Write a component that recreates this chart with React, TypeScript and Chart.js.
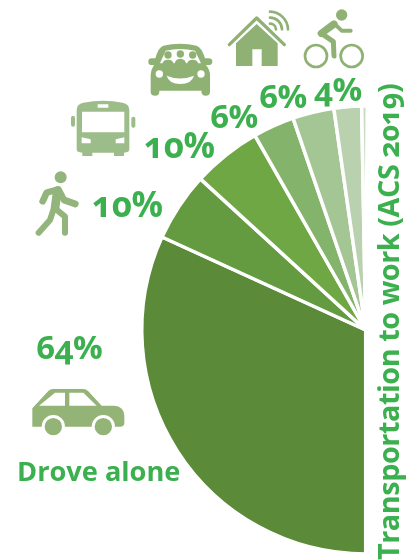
import React, { useEffect, useRef } from "react";
import { Chart, registerables } from "chart.js";

Chart.register(...registerables);

const categories = ["Drove alone", "Walked", "Public transit", "Carpool", "Worked from home", "Bicycle", "Other"];
const shares = [64, 10, 10, 6, 6, 4, 0.8];
const sliceColors = ["#5b8a38", "#659b40", "#6fa745", "#84b46b", "#a4c594", "#b9d1ae", "#c9dcc0"];
const shareLabels = ["64%", "10%", "10%", "6%", "6%", "4%"];
const labelSizes = [33, 35, 35, 33, 33, 33];
const chartTitle = "Transportation to work (ACS 2019)";
const categoryCaption = "Drove alone";

const TEXT_GREEN = "#3cb04f";
const WIDTH = 417;
const HEIGHT = 560;

// Left edge and top of each share label, in page pixels.
const labelSpots: [number, number][] = [
  [36, 330],
  [92, 186],
  [144, 127],
  [210, 99],
  [259, 79],
  [314, 72],
];

type Ctx = CanvasRenderingContext2D;

const filled = (c: Ctx, color: string, d: string, sx = 1 / 3, ox = 0, oy = 0) => {
  c.save();
  c.translate(ox, oy);
  c.scale(sx, sx);
  c.fillStyle = color;
  c.fill(new Path2D(d), "evenodd");
  c.restore();
};

const stroked = (c: Ctx, color: string, width: number, d: string, ox = 0, oy = 0) => {
  c.save();
  c.translate(ox, oy);
  c.scale(1 / 3, 1 / 3);
  c.strokeStyle = color;
  c.lineWidth = width;
  c.lineCap = "round";
  c.lineJoin = "round";
  c.stroke(new Path2D(d));
  c.restore();
};

const circle = (x: number, y: number, r: number) =>
  `M${x - r} ${y}a${r} ${r} 0 1 0 ${2 * r} 0a${r} ${r} 0 1 0 ${-2 * r} 0Z`;

function drawWalker(c: Ctx) {
  const col = "#93b47c";
  filled(c, col, circle(182, 532, 18));
  stroked(c, col, 20, "M128 604L140 578L175 568L192 600L226 612");
  stroked(c, col, 26, "M172 572L165 625");
  stroked(c, col, 18, "M160 630L150 660L116 698");
  stroked(c, col, 18, "M165 625L195 650L195 698");
}

function drawBus(c: Ctx) {
  const col = "#9cbd89";
  filled(c, col, "M230 330Q230 312 250 308Q310 296 368 308Q388 312 388 330V448Q388 458 372 458V468H342V458H277V468H247V458Q230 458 230 448Z" +
    "M246 335H373V397H246Z M293 313H325V323H293Z M245 412L272 418V430H245Z M373 412L347 418V430H373Z");
  stroked(c, col, 12, "M219 353V374");
  stroked(c, col, 12, "M400 356V377");
}

function drawCarpool(c: Ctx) {
  const col = "#8fb274";
  filled(c, col,
    "M490 137Q540 125 590 137Q605 142 615 175H625Q637 175 637 185Q637 195 625 195H618Q630 210 630 225V275Q630 287 617 287Q604 287 604 272H478V275Q478 287 465 287Q452 287 452 275V225Q452 210 462 195H455Q445 195 445 185Q445 175 455 175H466Q475 142 490 137Z");
  filled(c, "#ffffff", "M480 190L497 152Q540 142 585 152L603 190Z");
  filled(c, "#ffffff", circle(478, 222, 11));
  filled(c, "#ffffff", circle(603, 222, 11));
  filled(c, "#ffffff", "M500 227Q540 244 582 227Q575 252 541 252Q507 252 500 227Z");
  [[504, 165], [541, 162], [578, 165]].forEach(([x, y]) => {
    filled(c, col, circle(x, y, 11));
    filled(c, col, `M${x - 18} 195Q${x - 16} ${y + 14} ${x} ${y + 14}Q${x + 16} ${y + 14} ${x + 18} 195Z`);
  });
}

function drawHouse(c: Ctx) {
  const col = "#8fb274";
  const ox = 220;
  filled(c, col, "M48 198V130L110 72L173 130V198H125V148H97V198Z", 1 / 3, ox, 0);
  stroked(c, col, 10, "M28 134L110 54L193 134", ox, 0);
  stroked(c, col, 8, "M150 35A55 55 0 0 1 204 88", ox, 0);
  stroked(c, col, 8, "M150 53A36 36 0 0 1 186 88", ox, 0);
  stroked(c, col, 8, "M150 71A18 18 0 0 1 168 88", ox, 0);
}

function drawCyclist(c: Ctx) {
  const col = "#8fb274";
  const ox = 220;
  filled(c, col, circle(365, 45, 17), 1 / 3, ox, 0);
  stroked(c, col, 8, circle(288, 168, 33), ox, 0);
  stroked(c, col, 8, circle(395, 168, 33), ox, 0);
  stroked(c, col, 22, "M304 100L342 72", ox, 0);
  stroked(c, col, 12, "M342 70L365 92H392", ox, 0);
  stroked(c, col, 15, "M304 100L340 125L342 168", ox, 0);
}

function drawCar(c: Ctx) {
  const col = "#93b377";
  const oy = 320;
  filled(c, col,
    "M97 265L145 213Q150 207 160 207H250Q258 207 265 214L305 257H340Q373 258 373 290V308Q373 320 360 320H97Z" +
    "M117 257L165 218H195V257Z M208 218H250L290 257H208Z", 1 / 3, 0, oy);
  filled(c, "#ffffff", circle(160, 320, 35), 1 / 3, 0, oy);
  filled(c, "#ffffff", circle(310, 320, 35), 1 / 3, 0, oy);
  filled(c, col, circle(160, 320, 26), 1 / 3, 0, oy);
  filled(c, col, circle(310, 320, 26), 1 / 3, 0, oy);
}

// Pictograms that sit beside each share label.
const pictograms = {
  id: "pictograms",
  afterDraw(chart: Chart) {
    const c = chart.ctx;
    [drawWalker, drawBus, drawCarpool, drawHouse, drawCyclist, drawCar].forEach((fn) => fn(c));
  },
};

const textBase: React.CSSProperties = {
  position: "absolute",
  fontFamily: '"Open Sans", Lato, sans-serif',
  fontFeatureSettings: '"onum" 1, "lnum" 0',
  fontVariantNumeric: "oldstyle-nums",
  color: TEXT_GREEN,
  whiteSpace: "nowrap",
  lineHeight: 1,
};

export default function App() {
  const ref = useRef<HTMLCanvasElement>(null);

  useEffect(() => {
    document.body.style.margin = "0";
    const chart = new Chart(ref.current!, {
      type: "pie",
      data: {
        labels: categories,
        datasets: [
          {
            data: shares,
            backgroundColor: sliceColors,
            borderColor: "#ffffff",
            borderWidth: 3.5,
            borderAlign: "center",
            hoverOffset: 0,
          },
        ],
      },
      options: {
        responsive: false,
        animation: false,
        rotation: 180,
        circumference: 180.4,
        layout: { padding: { left: 140, right: WIDTH - 369, top: 103, bottom: HEIGHT - 557 } },
        plugins: { legend: { display: false }, tooltip: { enabled: false } },
      },
      plugins: [pictograms],
    });
    return () => chart.destroy();
  }, []);

  return (
    <div style={{ position: "relative", width: WIDTH, height: HEIGHT, overflow: "hidden", background: "#fff" }}>
      <canvas ref={ref} width={WIDTH} height={HEIGHT} style={{ position: "absolute", left: 0, top: 0 }} />
      {shareLabels.map((t, i) => (
        <span key={i} style={{ ...textBase, left: labelSpots[i][0], top: labelSpots[i][1], fontSize: labelSizes[i], fontWeight: 700, letterSpacing: -0.5 }}>
          {t}
        </span>
      ))}
      <span style={{ ...textBase, left: 17, top: 457, fontSize: 27.2, fontWeight: 700 }}>{categoryCaption}</span>
      <span
        style={{
          ...textBase,
          left: 374,
          top: 560,
          fontSize: 28.8,
          fontWeight: 700,
          letterSpacing: -0.45,
          transformOrigin: "0 0",
          transform: "rotate(-90deg)",
        }}
      >
        {chartTitle}
      </span>
    </div>
  );
}
